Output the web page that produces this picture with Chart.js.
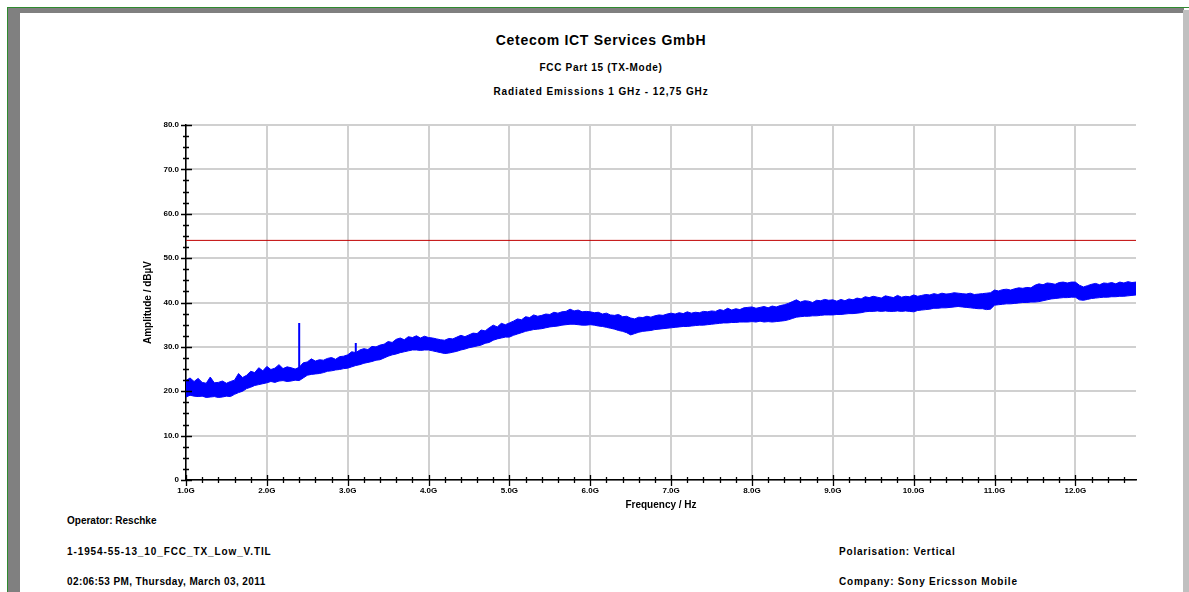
<!DOCTYPE html>
<html>
<head>
<meta charset="utf-8">
<script src="https://cdn.jsdelivr.net/npm/chart.js@4.4.1/dist/chart.umd.min.js"></script>
<style>
  body { margin: 0; background: #fff; width: 1189px; height: 592px; overflow: hidden; position: relative;
         font-family: "Liberation Sans", Arial, sans-serif; font-weight: bold; color: #000; }
  .bar { position: absolute; }
  .txt { position: absolute; white-space: nowrap; }
  .center { left: 20px; width: 1162px; text-align: center; }
  #chart { position: absolute; left: 0; top: 0; }
</style>
</head>
<body>
<div class="bar" style="left:7px;top:7px;width:1182px;height:1px;background:#2f8a2f"></div>
<div class="bar" style="left:7px;top:7px;width:1px;height:585px;background:#2f8a2f"></div>
<div class="bar" style="left:8px;top:8px;width:1176px;height:5px;background:#808080"></div>
<div class="bar" style="left:8px;top:8px;width:12px;height:584px;background:#808080"></div>
<div class="bar" style="left:1183px;top:10px;width:6px;height:582px;background:#c0c0c0"></div>

<div class="txt center" style="top:32px;font-size:14px;letter-spacing:0.7px">Cetecom ICT Services GmbH</div>
<div class="txt center" style="top:62px;font-size:10px;letter-spacing:0.7px">FCC Part 15 (TX-Mode)</div>
<div class="txt center" style="top:86px;font-size:10px;letter-spacing:0.9px">Radiated Emissions 1 GHz - 12,75 GHz</div>

<div class="txt" style="left:67px;top:515px;font-size:10px">Operator: Reschke</div>
<div class="txt" style="left:67px;top:546px;font-size:10px;letter-spacing:0.9px">1-1954-55-13_10_FCC_TX_Low_V.TIL</div>
<div class="txt" style="left:67px;top:576px;font-size:10px;letter-spacing:0.4px">02:06:53 PM, Thursday, March 03, 2011</div>
<div class="txt" style="left:839px;top:546px;font-size:10px;letter-spacing:0.8px">Polarisation: Vertical</div>
<div class="txt" style="left:839px;top:576px;font-size:10px;letter-spacing:0.8px">Company: Sony Ericsson Mobile</div>

<canvas id="chart" width="1189" height="592"></canvas>
<script>
// trace sampled every 0.05 GHz from 1.00 GHz, upper / lower edge of the noise band (dBuV)
const freqStart = 1.0;
const freqStep = 0.05;
const levelMax = [
  22.4,23.0,22.2,22.9,22.0,21.8,23.2,21.9,22.0,22.3,21.8,22.2,22.5,24.0,23.1,23.6,24.5,24.2,25.3,24.6,
  25.6,24.9,25.2,26.0,25.1,25.5,25.3,25.0,25.4,26.4,26.6,27.3,26.8,27.1,27.0,27.4,27.6,27.2,27.8,27.9,
  28.2,28.9,28.7,29.3,29.6,29.4,30.1,30.0,30.4,30.6,31.2,31.0,31.7,32.0,31.6,32.3,32.1,32.5,32.0,32.4,
  32.1,32.0,31.8,31.6,31.5,31.9,31.8,32.2,32.6,32.3,32.7,33.1,33.0,33.8,33.6,34.3,34.9,34.5,35.3,35.0,
  35.4,35.8,36.3,36.1,36.8,36.6,37.2,36.9,37.1,37.4,37.3,37.8,37.6,37.9,38.0,38.5,38.1,38.3,37.9,38.0,
  37.9,37.7,37.8,37.4,37.6,37.2,37.1,37.3,36.8,36.9,36.5,36.3,36.7,36.6,36.9,36.7,37.0,37.2,37.1,37.4,
  37.6,37.4,37.7,37.5,37.9,37.6,37.8,37.7,38.0,37.9,38.1,38.0,38.4,38.2,38.7,38.3,38.6,38.4,38.8,38.9,
  39.0,38.7,38.9,39.1,38.8,39.2,39.0,39.3,39.5,39.8,40.2,40.6,40.1,40.4,40.3,40.0,40.5,40.4,40.7,40.5,
  40.6,40.3,40.7,40.4,40.8,40.6,41.0,40.8,41.3,41.1,41.4,41.2,41.0,41.5,41.3,41.1,41.6,41.2,41.4,41.3,
  41.7,41.4,41.6,41.8,41.7,42.0,41.8,42.1,41.9,42.0,42.2,42.1,42.0,41.9,42.1,41.8,41.9,42.0,42.1,42.2,
  42.8,42.6,42.9,43.0,42.8,43.1,43.3,43.2,43.4,43.3,43.9,44.2,44.0,44.4,44.3,44.1,44.5,44.6,44.4,44.6,
  44.6,43.9,43.5,43.8,44.1,44.3,44.0,44.4,44.3,44.5,44.2,44.6,44.4,44.7,44.5,44.6
];
const levelMin = [
  18.7,19.1,18.9,18.8,18.9,18.6,18.7,18.8,18.6,18.7,18.9,18.8,19.3,19.7,20.0,20.6,20.9,21.3,21.5,21.7,
  21.9,22.2,22.0,22.3,22.4,22.2,22.3,22.5,22.4,23.0,23.6,23.8,23.9,24.0,24.2,24.5,24.6,24.8,24.9,25.1,
  25.2,25.5,25.8,26.0,26.3,26.5,26.7,27.0,27.1,27.5,27.9,28.2,28.4,28.7,28.9,29.1,29.3,29.3,29.2,29.3,
  29.3,29.1,28.9,28.7,28.5,28.6,28.8,29.0,29.3,29.5,29.8,30.0,30.2,30.4,30.8,31.0,31.5,31.8,32.0,32.2,
  32.2,32.6,32.9,33.2,33.5,33.7,33.9,34.0,34.1,34.3,34.5,34.6,34.7,34.9,35.0,35.1,35.1,35.0,34.9,34.9,
  35.0,34.9,34.7,34.6,34.4,34.2,34.0,33.7,33.5,33.2,32.7,33.0,33.3,33.5,33.6,33.7,33.9,34.0,34.1,34.2,
  34.3,34.4,34.5,34.6,34.6,34.7,34.8,34.9,34.9,35.0,35.1,35.2,35.3,35.4,35.4,35.5,35.5,35.6,35.6,35.6,
  35.7,35.6,35.8,35.6,35.7,35.6,35.7,35.8,35.9,36.1,36.4,36.7,36.8,36.9,36.9,37.0,37.0,37.1,37.2,37.2,
  37.2,37.3,37.3,37.4,37.5,37.5,37.6,37.7,37.9,38.0,38.0,38.1,38.0,38.1,38.0,38.0,38.1,38.0,38.1,38.0,
  37.9,38.2,38.3,38.4,38.5,38.7,38.7,38.8,38.8,38.9,39.0,39.1,39.0,38.9,38.8,38.7,38.6,38.6,38.4,38.5,
  39.4,39.5,39.6,39.7,39.7,39.8,39.9,40.0,40.0,40.1,40.1,40.2,40.4,40.6,40.8,40.9,41.0,41.1,41.1,41.2,
  41.2,40.6,40.5,40.7,40.9,41.0,41.1,41.2,41.2,41.3,41.3,41.4,41.4,41.5,41.6,41.7
];
// narrow spurious peaks
const spikeFreqs = [2.40, 3.10];
const spikeBases = [24.5, 27.0];
const spikeTops = [35.4, 30.9];
// FCC limit line
const limitFreqs = [1.0, 12.75];
const limitLevels = [54.0, 54.0];

const xTickValues = [1,2,3,4,5,6,7,8,9,10,11,12];
const yTickValues = [0,10,20,30,40,50,60,70,80];
const xMinorStep = 0.2;
const yMinorStep = 2.5;

const upper = levelMax.map((v, i) => ({ x: freqStart + i * freqStep, y: v }));
const lower = levelMin.map((v, i) => ({ x: freqStart + i * freqStep, y: v }));
const spikes = [];
spikeFreqs.forEach((f, i) => {
  spikes.push({ x: f, y: spikeBases[i] }, { x: f, y: spikeTops[i] }, { x: f, y: null });
});
const limit = limitFreqs.map((f, i) => ({ x: f, y: limitLevels[i] }));

const BLUE = '#0000ff';

const crossTicks = {
  id: 'crossTicks',
  afterDraw(chart) {
    const ctx = chart.ctx;
    const xs = chart.scales.x, ys = chart.scales.y;
    const ax = xs.getPixelForValue(xs.min), ay = ys.getPixelForValue(0);
    ctx.save();
    ctx.strokeStyle = '#000';
    ctx.lineWidth = 1.3;
    ctx.beginPath();
    for (let v = 0; v <= 80.001; v += yMinorStep) {
      const y = Math.round(ys.getPixelForValue(v)) + 0.5;
      const major = Math.abs(v % 10) < 0.001;
      ctx.moveTo(ax - (major ? 5 : 3), y);
      ctx.lineTo(ax + (major ? 6 : 3), y);
    }
    for (let f = 1; f <= 12.75; f += xMinorStep) {
      const x = Math.round(xs.getPixelForValue(f)) + 0.5;
      const major = Math.abs(f - Math.round(f)) < 0.001;
      ctx.moveTo(x, ay - (major ? 5 : 3));
      ctx.lineTo(x, ay + (major ? 6 : 3));
    }
    ctx.stroke();
    ctx.restore();
  }
};

new Chart(document.getElementById('chart'), {
  type: 'line',
  data: {
    datasets: [
      { data: lower, borderColor: BLUE, borderWidth: 1, pointRadius: 0, fill: false, tension: 0 },
      { data: upper, borderColor: BLUE, borderWidth: 1, pointRadius: 0, fill: '-1', backgroundColor: BLUE, tension: 0 },
      { data: spikes, borderColor: BLUE, borderWidth: 2, pointRadius: 0, spanGaps: false, fill: false },
      { data: limit, borderColor: '#c00000', borderWidth: 1, pointRadius: 0, fill: false }
    ]
  },
  options: {
    responsive: false,
    animation: false,
    devicePixelRatio: 1,
    layout: { padding: { left: 136, right: 53, top: 125, bottom: 77 } },
    plugins: { legend: { display: false }, tooltip: { enabled: false } },
    scales: {
      x: {
        type: 'linear', min: 1, max: 12.75,
        afterBuildTicks: s => { s.ticks = xTickValues.map(v => ({ value: v })); },
        afterFit: s => { s.height = 35; },
        grid: { color: '#d0d0d0', lineWidth: 2, drawTicks: false },
        border: { color: '#000', width: 1.5 },
        ticks: {
          padding: 6, color: '#000', maxRotation: 0, autoSkip: false,
          font: { family: 'Liberation Sans', size: 8, weight: 'bold' },
          callback: v => v.toFixed(1) + 'G'
        },
        title: {
          display: true, text: 'Frequency / Hz', color: '#000', padding: 4,
          font: { family: 'Liberation Sans', size: 10, weight: 'bold' }
        }
      },
      y: {
        type: 'linear', min: 0, max: 80,
        afterBuildTicks: s => { s.ticks = yTickValues.map(v => ({ value: v })); },
        afterFit: s => { s.width = 50; },
        grid: { color: '#d0d0d0', lineWidth: 2, drawTicks: false },
        border: { color: '#000', width: 1.5 },
        ticks: {
          padding: 7, color: '#000',
          font: { family: 'Liberation Sans', size: 8, weight: 'bold' },
          callback: v => v === 0 ? '0' : v.toFixed(1)
        },
        title: {
          display: true, text: 'Amplitude / dBµV', color: '#000', padding: 6,
          font: { family: 'Liberation Sans', size: 10, weight: 'bold' }
        }
      }
    }
  },
  plugins: [crossTicks]
});
</script>
</body>
</html>
